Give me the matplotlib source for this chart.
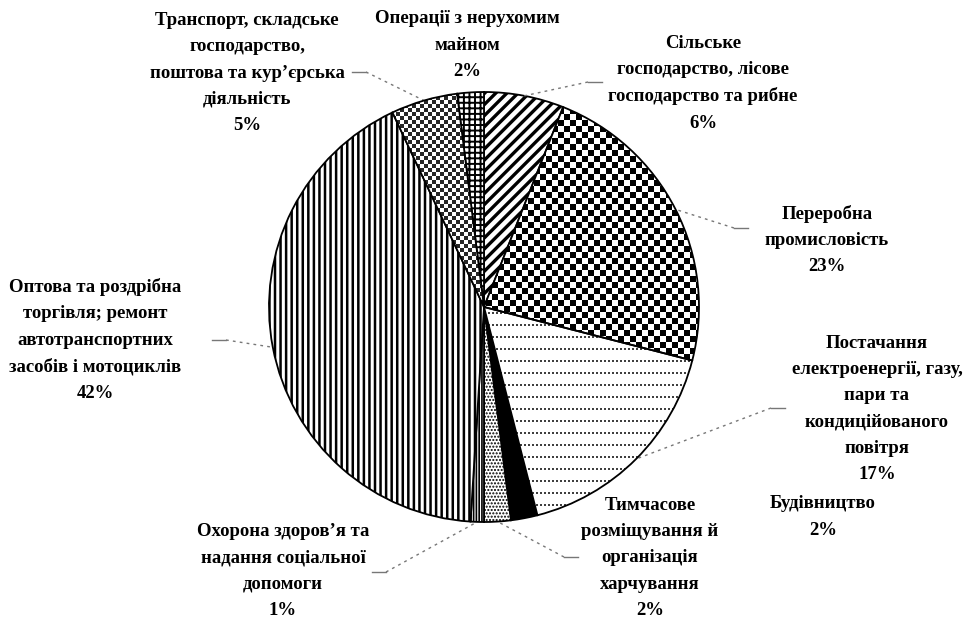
import numpy as np
import matplotlib.pyplot as plt

plt.rcParams['font.family'] = ['Liberation Serif', 'DejaVu Serif']
plt.rcParams['hatch.linewidth'] = 1.6

# sectors, clockwise from 12 o'clock
sectors = [
    "Сільське\nгосподарство, лісове\nгосподарство та рибне",
    "Переробна\nпромисловість",
    "Постачання\nелектроенергії, газу,\nпари та\nкондиційованого\nповітря",
    "Будівництво",
    "Тимчасове\nрозміщування й\nорганізація\nхарчування",
    "Охорона здоров’я та\nнадання соціальної\nдопомоги",
    "Оптова та роздрібна\nторгівля; ремонт\nавтотранспортних\nзасобів і мотоциклів",
    "Транспорт, складське\nгосподарство,\nпоштова та кур’єрська\nдіяльність",
    "Операції з нерухомим\nмайном",
]
shares = [6, 23, 17, 2, 2, 1, 42, 5, 2]

W, H = 978, 621
cx, cy, R = 484, H - 307, 215

# label centres (pixels, from top-left) and leader anchor at label side
label_pos = [(703, 83), (827, 240), (877, 409), (823, 517), (650, 558),
             (283, 571), (95, 340), (247, 73), (467, 45)]
leader_end = [(602, 82), (748, 228), (785, 408), None, (578, 557),
              (372, 572), (212, 340), (352, 72), None]

# fill style per sector: ('hatch', pattern, lw) / ('tex', name) / ('solid', colour)
styles = [('hatch', '///', 2.4), ('tex', 'checker'), ('tex', 'rows'),
          ('solid', 'black'), ('hatch', '.....', 1.0), ('hatch', '||||||', 1.2),
          ('hatch', '|||', 1.8), ('tex', 'fine'), ('hatch', '+++', 1.4)]

fig = plt.figure(figsize=(W / 100, H / 100), dpi=100)
ax = fig.add_axes([0, 0, 1, 1])

wedges, _ = ax.pie(shares, startangle=90, counterclock=False,
                   center=(cx, cy), radius=R,
                   wedgeprops=dict(edgecolor='black', linewidth=1.3, facecolor='white'))

yy, xx = np.mgrid[0:H, 0:W]
textures = {
    'checker': ((yy // 6 + xx // 6) % 2).astype(float),
    'fine': ((yy // 4 + xx // 4) % 2) * 0.85,
    'rows': (((yy % 12) < 2) & ((xx % 4) < 2)) * 0.75,
}

for w, st in zip(wedges, styles):
    kind, val = st[0], st[1]
    if kind == 'hatch':
        w.set_hatch(val)
        if hasattr(w, 'set_hatch_linewidth'):
            w.set_hatch_linewidth(st[2])
    elif kind == 'solid':
        w.set_facecolor(val)
    else:
        img = ax.imshow(textures[val], cmap='gray_r', vmin=0, vmax=1,
                        extent=(0, W, 0, H), origin='upper',
                        interpolation='nearest', zorder=2)
        img.set_clip_path(w)
        w.set_facecolor('none')
        w.set_zorder(3)

for w, name, v, (lx, ly), end in zip(wedges, sectors, shares, label_pos, leader_end):
    ax.text(lx, H - ly, f"{name}\n{v}%", ha='center', va='center',
            fontsize=13.5, fontweight='bold', linespacing=1.7)
    if end is None:
        continue
    ang = np.deg2rad((w.theta1 + w.theta2) / 2)
    ex, ey = cx + R * np.cos(ang), cy + R * np.sin(ang)
    sx, sy = end[0], H - end[1]
    stub = 14 if ex > sx else -14
    ax.plot([sx, sx + stub], [sy, sy], color='#777777', lw=1)
    ax.plot([sx + stub, ex], [sy, ey], color='#777777', lw=1,
            linestyle=(0, (2, 3)))

ax.set_xlim(0, W)
ax.set_ylim(0, H)
ax.set_aspect('auto')
ax.axis('off')

fig.savefig('out.png', dpi=100, facecolor='white')
